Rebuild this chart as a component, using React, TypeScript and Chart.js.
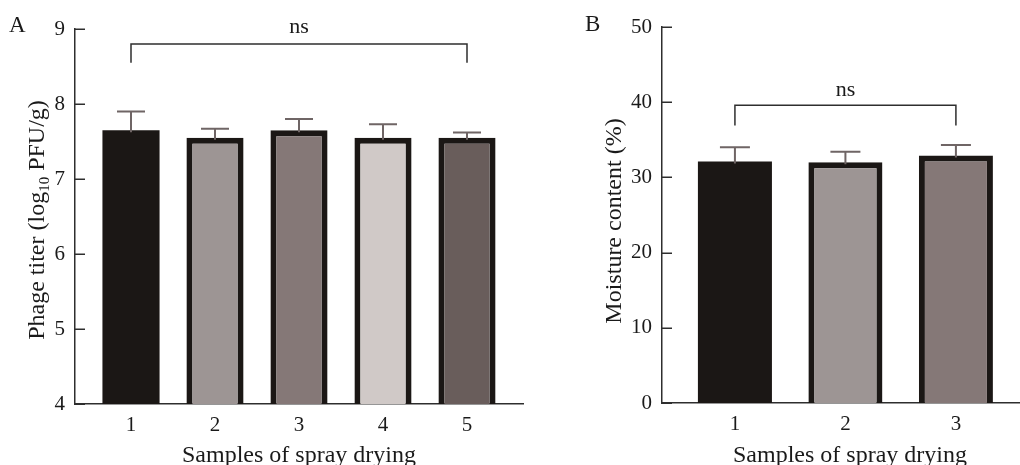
import React, { useEffect, useRef } from 'react';
import { Chart, registerables } from 'chart.js';
Chart.register(...registerables);

// ---------- data ----------
const categoriesA = ['1', '2', '3', '4', '5'];
const titerMeans = [7.65, 7.55, 7.65, 7.55, 7.55];
const titerErrors = [0.25, 0.12, 0.15, 0.18, 0.07];
const yTicksA = [4, 5, 6, 7, 8, 9];
const bracketA = [8.8, 8.55, 8.95]; // level, drop end, label baseline

const categoriesB = ['1', '2', '3'];
const moistureMeans = [32.1, 32.0, 32.9];
const moistureErrors = [1.9, 1.4, 1.4];
const yTicksB = [0, 10, 20, 30, 40, 50];
const bracketB = [39.6, 36.9, 40.8];

const sigLabel = 'ns';
const xTitle = 'Samples of spray drying';

// ---------- styles ----------
const fillsA = ['#1b1715', '#9d9594', '#857877', '#d0c9c7', '#695d5b'];
const fillsB = ['#1b1715', '#9d9594', '#857877'];
const EDGE = '#1b1715';
const AXIS = '#2e2e2e';
const ERR = '#6f6565';
const SERIF = "'Liberation Serif', 'Times New Roman', serif";

type Cfg = {
  categories: string[];
  means: number[];
  errors: number[];
  yTicks: number[];
  bracket: number[];
  fills: string[];
  xMin: number;
  xMax: number;
  barPct: number;
  capHalf: number;
  padding: { left: number; right: number; top: number; bottom: number };
  yWidth: number;
  xHeight: number;
  letter: string;
  letterX: number;
  letterY: number;
  yTitle: { text: string; sub?: boolean }[];
  yTitleX: number;
  yTitleY: number;
  xTitleX: number;
  xTitleY: number;
};

function overlay(cfg: Cfg) {
  return {
    id: 'overlay',
    afterDraw(chart: any) {
      const ctx: CanvasRenderingContext2D = chart.ctx;
      const xs = chart.scales.x;
      const ys = chart.scales.y;
      const area = chart.chartArea;
      const meta = chart.getDatasetMeta(0);
      ctx.save();

      // inward y ticks
      ctx.strokeStyle = AXIS;
      ctx.lineWidth = 1.5;
      cfg.yTicks.forEach((v) => {
        const y = Math.round(ys.getPixelForValue(v)) + 0.25;
        ctx.beginPath();
        ctx.moveTo(area.left, y);
        ctx.lineTo(area.left + 10, y);
        ctx.stroke();
      });

      // error bars
      ctx.strokeStyle = ERR;
      ctx.lineWidth = 2;
      cfg.means.forEach((m, i) => {
        const el = meta.data[i];
        const x = el.x;
        const y0 = ys.getPixelForValue(m);
        const y1 = ys.getPixelForValue(m + cfg.errors[i]);
        ctx.beginPath();
        ctx.moveTo(x, y0 + 2);
        ctx.lineTo(x, y1);
        ctx.moveTo(x - cfg.capHalf, y1);
        ctx.lineTo(x + cfg.capHalf, y1);
        ctx.stroke();
      });

      // significance bracket
      const n = cfg.categories.length;
      const bx0 = xs.getPixelForValue(1);
      const bx1 = xs.getPixelForValue(n);
      const by = ys.getPixelForValue(cfg.bracket[0]);
      const bd = ys.getPixelForValue(cfg.bracket[1]);
      ctx.strokeStyle = AXIS;
      ctx.lineWidth = 1.5;
      ctx.beginPath();
      ctx.moveTo(bx0, bd);
      ctx.lineTo(bx0, by);
      ctx.lineTo(bx1, by);
      ctx.lineTo(bx1, bd);
      ctx.stroke();
      ctx.fillStyle = '#1a1a1a';
      ctx.font = `22px ${SERIF}`;
      ctx.textAlign = 'center';
      ctx.textBaseline = 'alphabetic';
      ctx.fillText(sigLabel, (bx0 + bx1) / 2, ys.getPixelForValue(cfg.bracket[2]));

      // panel letter
      ctx.font = `23px ${SERIF}`;
      ctx.textAlign = 'left';
      ctx.fillText(cfg.letter, cfg.letterX, cfg.letterY);

      // x title
      ctx.font = `24px ${SERIF}`;
      ctx.textAlign = 'center';
      ctx.fillText(xTitle, cfg.xTitleX, cfg.xTitleY);

      // y title (rotated, with subscript)
      ctx.translate(cfg.yTitleX, cfg.yTitleY);
      ctx.rotate(-Math.PI / 2);
      ctx.textAlign = 'left';
      const main = `24px ${SERIF}`;
      const sub = `15px ${SERIF}`;
      let total = 0;
      cfg.yTitle.forEach((p) => {
        ctx.font = p.sub ? sub : main;
        total += ctx.measureText(p.text).width;
      });
      let cx = -total / 2;
      cfg.yTitle.forEach((p) => {
        ctx.font = p.sub ? sub : main;
        ctx.fillText(p.text, cx, p.sub ? 5 : 0);
        cx += ctx.measureText(p.text).width;
      });
      ctx.restore();
    },
  };
}

function makeChart(canvas: HTMLCanvasElement, cfg: Cfg) {
  const tickFont = { family: SERIF, size: 21 };
  return new Chart(canvas, {
    type: 'bar',
    data: {
      datasets: [
        {
          data: cfg.categories.map((_, i) => ({ x: i + 1, y: cfg.means[i] })),
          backgroundColor: cfg.fills,
          borderColor: EDGE,
          borderWidth: cfg.categories.map((_, i) => (i === 0 ? 0 : 6)),
          borderSkipped: 'start',
          barPercentage: cfg.barPct,
          categoryPercentage: 1,
        } as any,
      ],
    },
    options: {
      responsive: false,
      animation: false,
      events: [],
      layout: { padding: cfg.padding },
      plugins: {
        legend: { display: false },
        tooltip: { enabled: false },
        title: { display: false },
      },
      scales: {
        x: {
          type: 'linear',
          offset: false,
          min: cfg.xMin,
          max: cfg.xMax,
          grid: { display: false, drawTicks: false },
          border: { display: true, color: AXIS, width: 1.5 },
          ticks: {
            font: tickFont,
            color: '#1a1a1a',
            padding: 9,
            maxRotation: 0,
            autoSkip: false,
            callback: (v: any) => cfg.categories[Math.round(Number(v)) - 1] ?? '',
          },
          afterBuildTicks: (s: any) => {
            s.ticks = cfg.categories.map((_, i) => ({ value: i + 1 }));
          },
          afterFit: (s: any) => {
            s.height = cfg.xHeight;
          },
        },
        y: {
          type: 'linear',
          min: cfg.yTicks[0],
          max: cfg.yTicks[cfg.yTicks.length - 1],
          grid: { display: false, drawTicks: false },
          border: { display: true, color: AXIS, width: 1.5 },
          ticks: { font: tickFont, color: '#1a1a1a', padding: 10 },
          afterBuildTicks: (s: any) => {
            s.ticks = cfg.yTicks.map((v) => ({ value: v }));
          },
          afterFit: (s: any) => {
            s.width = cfg.yWidth;
          },
        },
      },
    } as any,
    plugins: [overlay(cfg) as any],
  });
}

const cfgA: Cfg = {
  categories: categoriesA,
  means: titerMeans,
  errors: titerErrors,
  yTicks: yTicksA,
  bracket: bracketA,
  fills: fillsA,
  xMin: 1 / 3,
  xMax: 17 / 3,
  barPct: 0.68,
  capHalf: 14,
  padding: { left: 0, right: 2, top: 29, bottom: 0 },
  yWidth: 75,
  xHeight: 61,
  letter: 'A',
  letterX: 9,
  letterY: 32,
  yTitle: [{ text: 'Phage titer (log' }, { text: '10', sub: true }, { text: ' PFU/g)' }],
  yTitleX: 44,
  yTitleY: 220,
  xTitleX: 299,
  xTitleY: 462,
};

const cfgB: Cfg = {
  categories: categoriesB,
  means: moistureMeans,
  errors: moistureErrors,
  yTicks: yTicksB,
  bracket: bracketB,
  fills: fillsB,
  xMin: 0.34,
  xMax: 3.58,
  barPct: 0.67,
  capHalf: 15,
  padding: { left: 0, right: 0, top: 27, bottom: 0 },
  yWidth: 137,
  xHeight: 62,
  letter: 'B',
  letterX: 60,
  letterY: 31,
  yTitle: [{ text: 'Moisture content (%)' }],
  yTitleX: 96,
  yTitleY: 221,
  xTitleX: 325,
  xTitleY: 462,
};

export default function App() {
  const refA = useRef<HTMLCanvasElement>(null);
  const refB = useRef<HTMLCanvasElement>(null);
  useEffect(() => {
    const a = makeChart(refA.current!, cfgA);
    const b = makeChart(refB.current!, cfgB);
    return () => {
      a.destroy();
      b.destroy();
    };
  }, []);
  return (
    <div style={{ position: 'absolute', left: 0, top: 0, width: 1020, height: 465, background: '#fff', overflow: 'hidden' }}>
      <canvas ref={refA} width={525} height={465} style={{ position: 'absolute', left: 0, top: 0, display: 'block' }} />
      <canvas ref={refB} width={495} height={465} style={{ position: 'absolute', left: 525, top: 0, display: 'block' }} />
    </div>
  );
}
